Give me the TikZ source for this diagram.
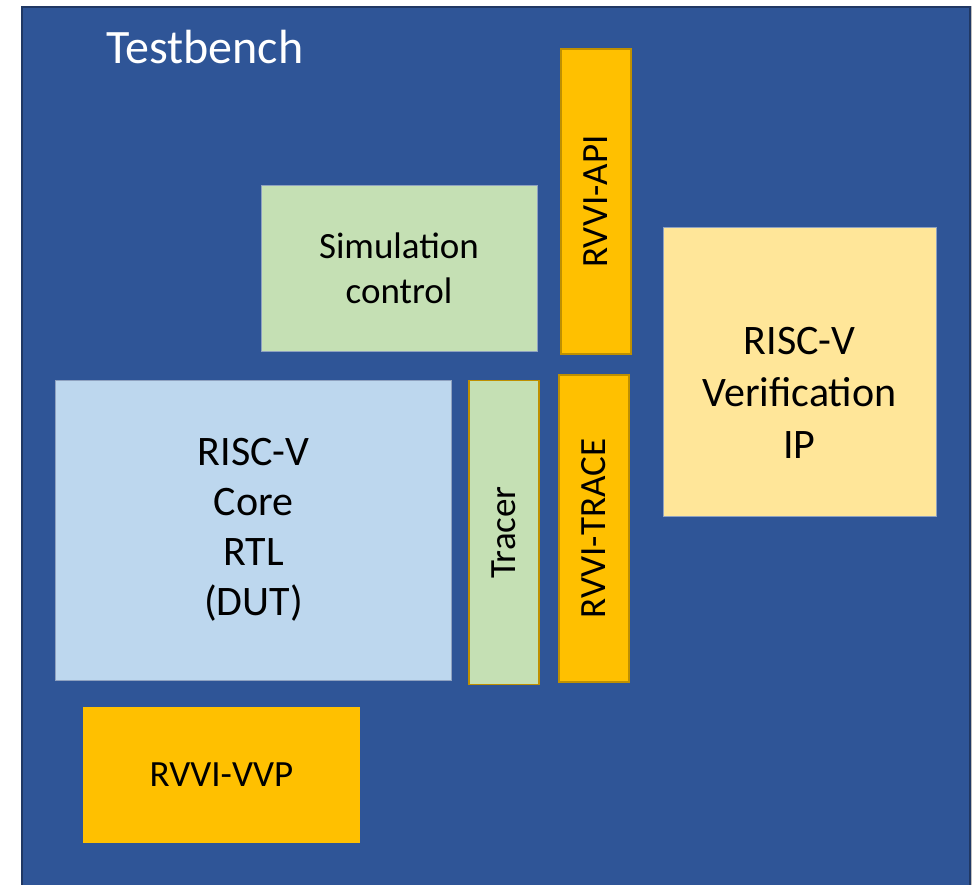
\documentclass[tikz,border=0pt]{standalone}
\usepackage{fontspec}
\setmainfont{Carlito}
\definecolor{tbblue}{HTML}{2F5597}
\definecolor{tbedge}{HTML}{203864}
\definecolor{amber}{HTML}{FFC000}
\definecolor{amberedge}{HTML}{BF9000}
\definecolor{sage}{HTML}{C5E0B4}
\definecolor{sky}{HTML}{BDD7EE}
\definecolor{cream}{HTML}{FFE699}
\definecolor{thinedge}{HTML}{8FA2C0}
\newcommand{\fsz}[2]{\fontsize{#1}{#2}\selectfont}
\tikzset{
  block/.style={rectangle, inner sep=0pt, outer sep=0pt, align=center, text=black},
  amberbox/.style={block, fill=amber, draw=amberedge, line width=1.8pt},
  plainamber/.style={block, fill=amber},
  sagebox/.style={block, fill=sage, draw=thinedge, line width=0.6pt},
  tracerbox/.style={block, fill=sage, draw=amberedge, line width=1.8pt},
  skybox/.style={block, fill=sky, draw=thinedge, line width=0.6pt},
  creambox/.style={block, fill=cream, draw=thinedge, line width=0.6pt},
  smalltext/.style={font=\fsz{37}{45}},
}
\begin{document}
\begin{tikzpicture}[x=1pt, y=-1pt]
  \useasboundingbox (0,0) rectangle (974,884);
  \fill[white] (0,0) rectangle (974,884);

  % testbench frame, running past the lower edge
  \draw[draw=black!25, line width=1pt] (21,6) rectangle (971.5,900);
  \node[block, fill=tbblue, draw=tbedge, line width=1.2pt,
        minimum width=948pt, minimum height=900pt, anchor=north west]
        (tb) at (22,7) {};
  \node[text=white, anchor=base west, inner sep=0pt, font=\fsz{48}{56}]
        (tblabel) at (106,63) {Testbench};

  % simulation control
  \node[sagebox, smalltext, minimum width=276pt, minimum height=166pt]
        (sim) at (399,268) {Simulation\\control};

  % RVVI-API (vertical)
  \node[amberbox, smalltext, rotate=90, minimum width=305pt, minimum height=70pt]
        (api) at (596,201.5) {RVVI-API};

  % verification IP, its text sitting a little low in the box
  \node[creambox, minimum width=273pt, minimum height=289pt]
        (vip) at (799.5,371.5) {};
  \node[block, font=\fsz{42}{52}]
        (viplabel) at ([yshift=-21pt]vip.center) {RISC-V\\Verification\\IP};

  % core under test
  \node[skybox, font=\fsz{42}{50}, minimum width=396pt, minimum height=300pt]
        (dut) at (253.5,530) {RISC-V\\Core\\RTL\\(DUT)};

  % tracer (vertical)
  \node[tracerbox, smalltext, rotate=90, minimum width=304pt, minimum height=70pt]
        (tracer) at (504,532.5) {Tracer};

  % RVVI-TRACE (vertical)
  \node[amberbox, smalltext, rotate=90, minimum width=307pt, minimum height=70pt]
        (trace) at (594,528.5) {RVVI-TRACE};

  % RVVI-VVP
  \node[plainamber, smalltext, minimum width=277pt, minimum height=136pt]
        (vvp) at (221.5,775) {RVVI-VVP};
\end{tikzpicture}
\end{document}
